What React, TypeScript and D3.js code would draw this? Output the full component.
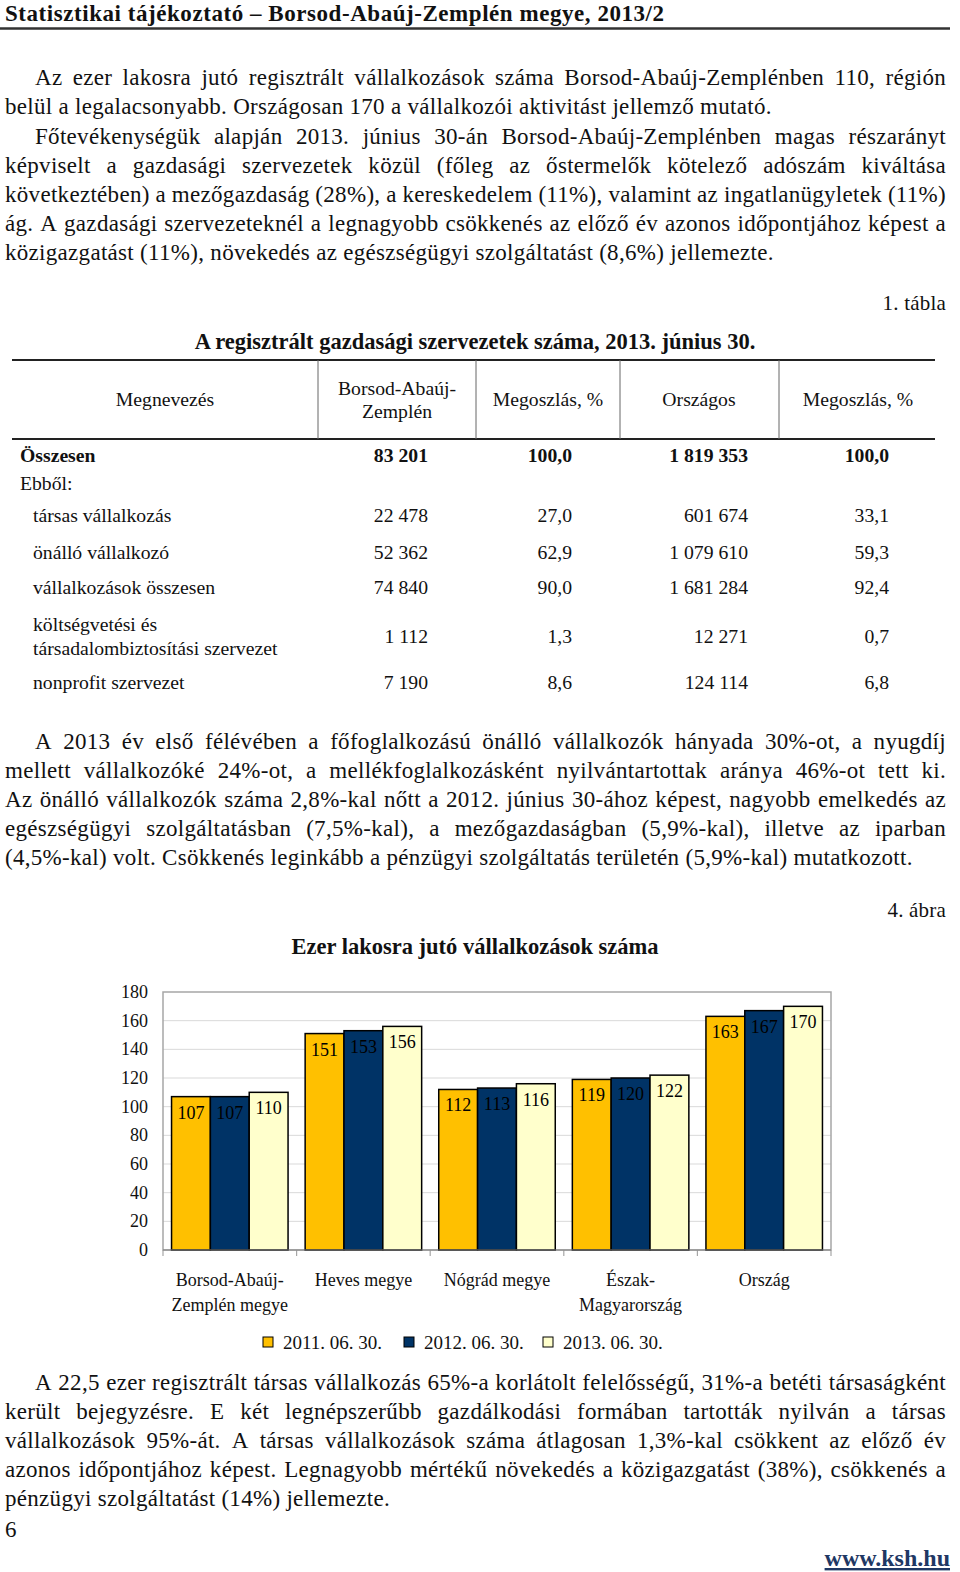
import React from 'react';
import * as d3 from 'd3';

const FONT = '"Liberation Serif", "Times New Roman", serif';

// ---------- text data ----------
const headerTitle = 'Statisztikai tájékoztató – Borsod-Abaúj-Zemplén megye, 2013/2';

const para1 = [
  'Az ezer lakosra jutó regisztrált vállalkozások száma Borsod-Abaúj-Zemplénben 110, régión',
  'belül a legalacsonyabb. Országosan 170 a vállalkozói aktivitást jellemző mutató.',
];
const para2 = [
  'Főtevékenységük alapján 2013. június 30-án Borsod-Abaúj-Zemplénben magas részarányt',
  'képviselt a gazdasági szervezetek közül (főleg az őstermelők kötelező adószám kiváltása',
  'következtében) a mezőgazdaság (28%), a kereskedelem (11%), valamint az ingatlanügyletek (11%)',
  'ág. A gazdasági szervezeteknél a legnagyobb csökkenés az előző év azonos időpontjához képest a',
  'közigazgatást (11%), növekedés az egészségügyi szolgáltatást (8,6%) jellemezte.',
];
const para3 = [
  'A 2013 év első félévében a főfoglalkozású önálló vállalkozók hányada 30%-ot, a nyugdíj',
  'mellett vállalkozóké 24%-ot, a mellékfoglalkozásként nyilvántartottak aránya 46%-ot tett ki.',
  'Az önálló vállalkozók száma 2,8%-kal nőtt a 2012. június 30-ához képest, nagyobb emelkedés az',
  'egészségügyi szolgáltatásban (7,5%-kal), a mezőgazdaságban (5,9%-kal), illetve az iparban',
  '(4,5%-kal) volt. Csökkenés leginkább a pénzügyi szolgáltatás területén (5,9%-kal) mutatkozott.',
];
const para4 = [
  'A 22,5 ezer regisztrált társas vállalkozás 65%-a korlátolt felelősségű, 31%-a betéti társaságként',
  'került bejegyzésre. E két legnépszerűbb gazdálkodási formában tartották nyilván a társas',
  'vállalkozások 95%-át. A társas vállalkozások száma átlagosan 1,3%-kal csökkent az előző év',
  'azonos időpontjához képest. Legnagyobb mértékű növekedés a közigazgatást (38%), csökkenés a',
  'pénzügyi szolgáltatást (14%) jellemezte.',
];

// ---------- table data ----------
const tableLabel = '1. tábla';
const tableTitle = 'A regisztrált gazdasági szervezetek száma, 2013. június 30.';
const tableHeaders = [['Megnevezés'], ['Borsod-Abaúj-', 'Zemplén'], ['Megoszlás, %'], ['Országos'], ['Megoszlás, %']];
const rowLabels = [
  ['Összesen'],
  ['Ebből:'],
  ['társas vállalkozás'],
  ['önálló vállalkozó'],
  ['vállalkozások összesen'],
  ['költségvetési és', 'társadalombiztosítási szervezet'],
  ['nonprofit szervezet'],
];
const borsodCounts = ['83 201', '', '22 478', '52 362', '74 840', '1 112', '7 190'];
const borsodShares = ['100,0', '', '27,0', '62,9', '90,0', '1,3', '8,6'];
const nationalCounts = ['1 819 353', '', '601 674', '1 079 610', '1 681 284', '12 271', '124 114'];
const nationalShares = ['100,0', '', '33,1', '59,3', '92,4', '0,7', '6,8'];

// ---------- chart data ----------
const chartLabel = '4. ábra';
const chartTitle = 'Ezer lakosra jutó vállalkozások száma';
const categories = [
  ['Borsod-Abaúj-', 'Zemplén megye'],
  ['Heves megye'],
  ['Nógrád megye'],
  ['Észak-', 'Magyarország'],
  ['Ország'],
];
const seriesNames = ['2011. 06. 30.', '2012. 06. 30.', '2013. 06. 30.'];
const values2011 = [107, 151, 112, 119, 163];
const values2012 = [107, 153, 113, 120, 167];
const values2013 = [110, 156, 116, 122, 170];
const seriesColors = ['#FFC000', '#003366', '#FFFFCC'];
const yTickValues = [0, 20, 40, 60, 80, 100, 120, 140, 160, 180];

// ---------- helpers ----------
let ctx: CanvasRenderingContext2D | null = null;
function measure(text: string, size: number, ls = 0, weight = 'normal') {
  if (!ctx) ctx = document.createElement('canvas').getContext('2d');
  if (!ctx) return text.length * (size * 0.45 + ls);
  ctx.font = `${weight} ${size}px "Liberation Serif"`;
  return ctx.measureText(text).width + text.length * ls;
}

const BODY = 23;
const BODY_LS = 0.3;

function JLine({ text, x0, x1, y, justify, size, ls }: any) {
  if (!justify) {
    return (
      <text x={x0} y={y} fontSize={size} letterSpacing={ls}>
        {text}
      </text>
    );
  }
  const words = text.split(' ');
  const widths = words.map((w: string) => measure(w, size, ls));
  const total = d3.sum(widths);
  const gap = (x1 - x0 - total) / (words.length - 1);
  if (gap < measure(' ', size) * 0.7) {
    return (
      <text x={x0} y={y} fontSize={size} textLength={x1 - x0} lengthAdjust="spacingAndGlyphs">
        {text}
      </text>
    );
  }
  let x = x0;
  return (
    <text y={y} fontSize={size} letterSpacing={ls}>
      {words.map((w: string, i: number) => {
        const el = (
          <tspan key={i} x={x}>
            {w}
          </tspan>
        );
        x += widths[i] + gap;
        return el;
      })}
    </text>
  );
}

function Paragraph({ lines, y0 }: { lines: string[]; y0: number }) {
  const lh = 29;
  return (
    <g>
      {lines.map((t, i) => (
        <JLine
          key={i}
          text={t}
          x0={i === 0 ? 35 : 5}
          x1={946}
          y={y0 + i * lh}
          justify={i < lines.length - 1}
          size={BODY}
          ls={BODY_LS}
        />
      ))}
    </g>
  );
}

function Table() {
  const left = 12;
  const right = 935;
  const top = 360;
  const headBottom = 439;
  const colLines = [318, 476, 620, 779];
  const headCenters = [165, 397, 548, 699, 858];
  const valueRights = [428, 572, 748, 889];
  const rowBaselines = [462, 490, 522, 559, 594, 643, 689];
  const fs = 19.7;
  const cols = [borsodCounts, borsodShares, nationalCounts, nationalShares];
  return (
    <g fontSize={fs}>
      <text x={946} y={310} textAnchor="end" fontSize={21} letterSpacing={0.2}>
        {tableLabel}
      </text>
      <text x={475} y={349} textAnchor="middle" fontWeight="bold" fontSize={22.5}>
        {tableTitle}
      </text>
      <line x1={left} x2={right} y1={top} y2={top} stroke="#222" strokeWidth={2} />
      <line x1={left} x2={right} y1={headBottom} y2={headBottom} stroke="#222" strokeWidth={2} />
      {colLines.map((x, i) => (
        <line key={i} x1={x} x2={x} y1={top} y2={headBottom} stroke="#666" strokeWidth={1} />
      ))}
      {tableHeaders.map((h, i) =>
        h.length === 1 ? (
          <text key={i} x={headCenters[i]} y={406} textAnchor="middle">
            {h[0]}
          </text>
        ) : (
          <text key={i} x={headCenters[i]} textAnchor="middle">
            <tspan x={headCenters[i]} y={395}>
              {h[0]}
            </tspan>
            <tspan x={headCenters[i]} y={418}>
              {h[1]}
            </tspan>
          </text>
        )
      )}
      {rowLabels.map((lab, r) => {
        const bold = r === 0;
        const x = r < 2 ? 20 : 33;
        const yb = rowBaselines[r];
        return (
          <g key={r} fontWeight={bold ? 'bold' : 'normal'}>
            {lab.length === 1 ? (
              <text x={x} y={yb}>
                {lab[0]}
              </text>
            ) : (
              <text x={x}>
                <tspan x={x} y={yb - 12}>
                  {lab[0]}
                </tspan>
                <tspan x={x} y={yb + 12}>
                  {lab[1]}
                </tspan>
              </text>
            )}
            {cols.map((c, ci) =>
              c[r] ? (
                <text key={ci} x={valueRights[ci]} y={yb} textAnchor="end">
                  {c[r]}
                </text>
              ) : null
            )}
          </g>
        );
      })}
    </g>
  );
}

function Chart() {
  const plotLeft = 163;
  const plotRight = 831;
  const plotTop = 992;
  const plotBottom = 1250;
  const series = [values2011, values2012, values2013];
  const x0 = d3
    .scaleBand<number>()
    .domain(d3.range(categories.length))
    .range([plotLeft, plotRight])
    .paddingInner(0)
    .paddingOuter(0);
  const x1 = d3
    .scaleBand<number>()
    .domain(d3.range(series.length))
    .range([0, x0.bandwidth()])
    .paddingInner(0)
    .paddingOuter(0.22);
  const y = d3.scaleLinear().domain([0, 180]).range([plotBottom, plotTop]);
  const fs = 18;
  const boundaries = d3.range(categories.length + 1).map((i) => plotLeft + i * x0.step());
  const legendX = [263, 404, 543];
  return (
    <g fontSize={fs}>
      <text x={946} y={917} textAnchor="end" fontSize={21} letterSpacing={0.2}>
        {chartLabel}
      </text>
      <text x={475} y={954} textAnchor="middle" fontWeight="bold" fontSize={22.5}>
        {chartTitle}
      </text>
      {yTickValues
        .filter((t) => t > 0 && t < 180)
        .map((t) => (
          <line key={t} x1={plotLeft} x2={plotRight} y1={y(t)} y2={y(t)} stroke="#d9d9d9" strokeWidth={1} />
        ))}
      <rect
        x={plotLeft}
        y={plotTop}
        width={plotRight - plotLeft}
        height={plotBottom - plotTop}
        fill="none"
        stroke="#a6a6a6"
        strokeWidth={1.5}
      />
      {yTickValues.map((t) => (
        <text key={t} x={148} y={y(t) + 6} textAnchor="end">
          {t}
        </text>
      ))}
      {boundaries.map((bx, i) => (
        <line key={i} x1={bx} x2={bx} y1={plotBottom} y2={plotBottom + 6} stroke="#a6a6a6" strokeWidth={1.2} />
      ))}
      {categories.map((cat, ci) => (
        <g key={ci}>
          {series.map((s, si) => {
            const bx = (x0(ci) as number) + (x1(si) as number);
            const by = y(s[ci]);
            return (
              <g key={si}>
                <rect
                  x={bx}
                  y={by}
                  width={x1.bandwidth()}
                  height={plotBottom - by}
                  fill={seriesColors[si]}
                  stroke="#000"
                  strokeWidth={1.5}
                />
                <text x={bx + x1.bandwidth() / 2} y={by + 22} textAnchor="middle" fill="#000">
                  {s[ci]}
                </text>
              </g>
            );
          })}
          {cat.map((l, li) => (
            <text
              key={li}
              x={(x0(ci) as number) + x0.bandwidth() / 2}
              y={1286 + li * 25}
              textAnchor="middle"
            >
              {l}
            </text>
          ))}
        </g>
      ))}
      <line x1={plotLeft} x2={plotRight} y1={plotBottom} y2={plotBottom} stroke="#808080" strokeWidth={1.2} />
      {seriesNames.map((n, i) => (
        <g key={i}>
          <rect x={legendX[i]} y={1337} width={10} height={10} fill={seriesColors[i]} stroke="#000" strokeWidth={1} />
          <text x={legendX[i] + 20} y={1349} fontSize={19}>
            {n}
          </text>
        </g>
      ))}
    </g>
  );
}

export default function App() {
  return (
    <svg
      width={960}
      height={1572}
      viewBox="0 0 960 1572"
      style={{ position: 'absolute', left: 0, top: 0, display: 'block', background: '#fff' }}
      fontFamily={FONT}
      fill="#111"
    >
      <rect x={0} y={0} width={960} height={1572} fill="#fff" />
      <text x={5} y={21} fontSize={23} fontWeight="bold" letterSpacing={0.55}>
        {headerTitle}
      </text>
      <line x1={0} x2={950} y1={28.5} y2={28.5} stroke="#333" strokeWidth={2.5} />
      <Paragraph lines={para1} y0={85} />
      <Paragraph lines={para2} y0={144} />
      <Table />
      <Paragraph lines={para3} y0={749} />
      <Chart />
      <Paragraph lines={para4} y0={1390} />
      <text x={5} y={1537} fontSize={BODY}>
        6
      </text>
      <text
        x={950}
        y={1566}
        textAnchor="end"
        fontSize={24}
        fontWeight="bold"
        fill="#1F3864"
        textDecoration="underline"
      >
        www.ksh.hu
      </text>
    </svg>
  );
}
